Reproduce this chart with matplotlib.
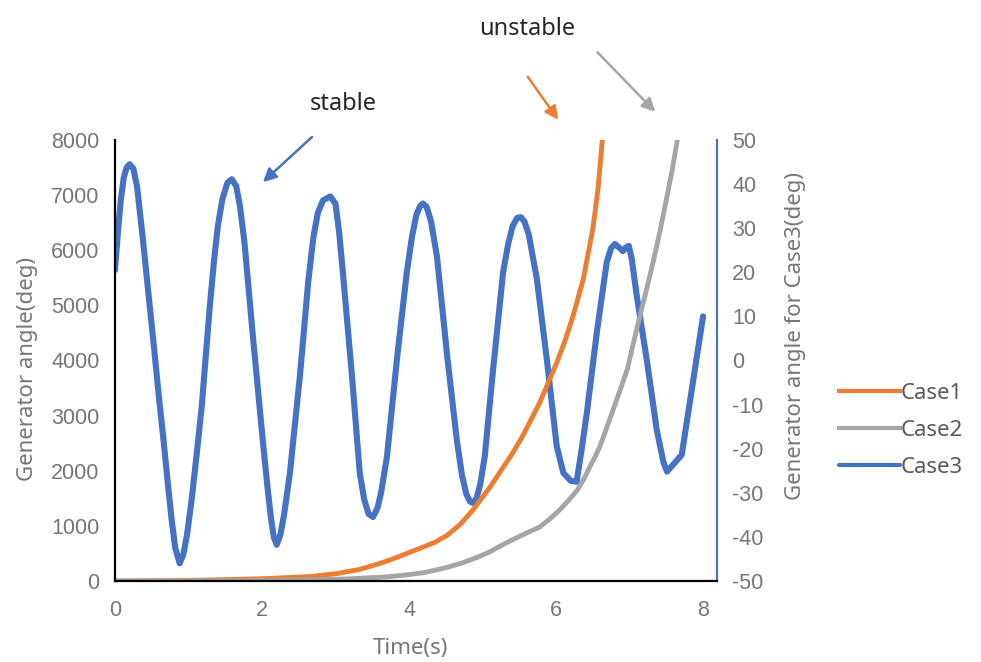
import numpy as np
import matplotlib
matplotlib.use("Agg")
import matplotlib.pyplot as plt

plt.rcParams['axes.unicode_minus'] = False

# Case1 / Case2: generator angle (deg), left axis
t_case1 = [0, 1.0, 2.0, 2.65, 3.0, 3.33, 3.61, 3.8, 4.01, 4.2, 4.35, 4.52, 4.7, 4.87,
           5.1, 5.25, 5.41, 5.55, 5.65, 5.78, 6.01, 6.12, 6.23, 6.37, 6.50, 6.57, 6.63]
case1 = [0, 10, 40, 80, 130, 210, 320, 410, 520, 620, 700, 830, 1030, 1290,
         1700, 2000, 2320, 2640, 2900, 3240, 3960, 4350, 4800, 5470, 6380, 7100, 8000]

t_case2 = [0, 1.0, 2.0, 2.65, 3.2, 3.7, 4.0, 4.2, 4.5, 4.73, 4.95, 5.1, 5.25, 5.41,
           5.6, 5.78, 5.92, 6.05, 6.17, 6.29, 6.38, 6.46, 6.53, 6.6, 6.73, 6.85,
           6.97, 7.05, 7.14, 7.23, 7.32, 7.42, 7.51, 7.58, 7.65]
case2 = [0, 2, 8, 20, 40, 75, 115, 150, 240, 330, 440, 530, 640, 750,
         870, 980, 1130, 1290, 1460, 1650, 1850, 2070, 2250, 2450, 2930, 3380,
         3840, 4300, 4800, 5280, 5780, 6380, 6980, 7450, 8000]

# Case3: generator angle (deg), right axis
t_case3 = [0.00, 0.04, 0.08, 0.12, 0.16, 0.20, 0.25, 0.30, 0.38, 0.45, 0.52, 0.59,
           0.66, 0.72, 0.77, 0.82, 0.88, 0.93, 0.98, 1.04, 1.11, 1.18, 1.29, 1.35,
           1.40, 1.46, 1.53, 1.59, 1.65, 1.70, 1.76, 1.88, 2.01, 2.07, 2.12, 2.16,
           2.20, 2.25, 2.30, 2.38, 2.52, 2.63, 2.70, 2.76, 2.83, 2.93, 3.00, 3.05,
           3.10, 3.22, 3.33, 3.39, 3.45, 3.51, 3.57, 3.62, 3.70, 3.84, 3.97, 4.04,
           4.10, 4.15, 4.19, 4.24, 4.30, 4.38, 4.52, 4.65, 4.72, 4.78, 4.83, 4.87,
           4.92, 4.97, 5.03, 5.14, 5.28, 5.35, 5.41, 5.47, 5.52, 5.57, 5.63, 5.74,
           5.88, 6.01, 6.10, 6.20, 6.28, 6.35, 6.42, 6.56, 6.69, 6.75, 6.80, 6.86,
           6.91, 6.95, 6.99, 7.03, 7.10, 7.24, 7.37, 7.46, 7.51, 7.71, 8.00]
case3 = [20.5, 29, 36.5, 41.5, 43.8, 44.5, 43.5, 39.5, 27.5, 16, 4.8, -7,
         -18, -28, -36, -42.5, -46, -44, -39.5, -32, -21.5, -10.5, 12.3, 23,
         30.5, 36.5, 40.3, 41.1, 39.5, 35, 27, 4.8, -18, -28, -35.5, -40,
         -41.8, -39.5, -35, -25.5, -2.8, 18, 28, 33.5, 36.3, 37.2, 35.5, 29,
         20, -2.7, -25.5, -31.5, -34.8, -35.5, -33.5, -30, -21.8, 0.9, 20, 28,
         33, 35, 35.6, 34.8, 31.5, 23.6, 0.9, -18, -26, -30.3, -32, -32.3,
         -31.2, -28, -21.8, -2.7, 20, 26.5, 30.5, 32.3, 32.5, 31.5, 28.5, 18.4,
         -0.5, -19.5, -25.5, -27.3, -27.5, -20, -11.8, 7, 22.3, 25.5, 26.4, 25.6,
         24.8, 25.6, 26, 23, 14.5, -0.5, -15.7, -23, -25.2, -21.4, 10]

c_orange = '#ED7D31'
c_gray = '#A5A5A5'
c_blue = '#4472C4'
txt_gray = '#767676'

tick_font = 'Liberation Sans'
text_font = 'Noto Sans'

fig = plt.figure(figsize=(9.81, 6.62), dpi=100)
ax = fig.add_axes([0.1172, 0.1224, 0.6137, 0.6662])
ax2 = ax.twinx()

l3, = ax2.plot(t_case3, case3, color=c_blue, lw=4.4, solid_joinstyle='round',
               solid_capstyle='round', label='Case3')
l1, = ax.plot(t_case1, case1, color=c_orange, lw=3.5, solid_joinstyle='round', label='Case1')
l2, = ax.plot(t_case2, case2, color=c_gray, lw=3.5, solid_joinstyle='round', label='Case2')

# keep the primary lines above the twin axis
ax.set_zorder(ax2.get_zorder() + 1)
ax.patch.set_visible(False)

ax.set_xlim(0, 8.19)
ax.set_ylim(0, 8000)
ax2.set_ylim(-50, 50)
ax.set_xticks([0, 2, 4, 6, 8])
ax.set_yticks(np.arange(0, 8001, 1000))
ax2.set_yticks(np.arange(-50, 51, 10))

for a in (ax, ax2):
    a.tick_params(length=0, labelsize=15.5, labelcolor=txt_gray)
    for lab in a.get_xticklabels() + a.get_yticklabels():
        lab.set_fontfamily(tick_font)
ax.tick_params(axis='y', pad=11)
ax.tick_params(axis='x', pad=14)
ax2.tick_params(axis='y', pad=11)

for s in ('top', 'right'):
    ax.spines[s].set_visible(False)
for s in ('top', 'left', 'bottom'):
    ax2.spines[s].set_visible(False)
ax.spines['left'].set_color('black')
ax.spines['left'].set_linewidth(1.6)
ax.spines['bottom'].set_color('black')
ax.spines['bottom'].set_linewidth(1.6)
ax2.spines['right'].set_color(c_blue)
ax2.spines['right'].set_linewidth(1.5)

ax.set_ylabel('Generator angle(deg)', fontsize=16, color=txt_gray, family=text_font,
              ha='center', va='center')
ax.yaxis.set_label_coords(-0.145, 0.48)
ax2.set_ylabel('Generator angle for Case3(deg)', fontsize=16, color=txt_gray,
               family=text_font, rotation=90, ha='center', va='center')
ax2.yaxis.set_label_coords(1.13, 0.555)
ax.set_xlabel('Time(s)', fontsize=16, color=txt_gray, family=text_font,
              ha='center', va='center')
ax.xaxis.set_label_coords(0.49, -0.152)

leg = fig.legend(handles=[l1, l2, l3], loc='center left', bbox_to_anchor=(0.855, 0.350),
                 frameon=False, borderpad=0, borderaxespad=0, handlelength=2.75,
                 handletextpad=0.05, labelspacing=0.72,
                 prop={'family': text_font, 'size': 16})
for txt in leg.get_texts():
    txt.set_color('#595959')
for h in leg.get_lines():
    h.set_linewidth(3.0)

# stable / unstable notes
fig.text(0.350, 0.843, 'stable', fontsize=17, color='#262626', family=text_font,
         ha='center', va='center')
fig.text(0.537, 0.956, 'unstable', fontsize=17, color='#262626', family=text_font,
         ha='center', va='center')

arrows = [((0.318, 0.793), (0.268, 0.725), c_blue),
          ((0.538, 0.884), (0.569, 0.819), c_orange),
          ((0.609, 0.921), (0.668, 0.831), c_gray)]
for tail, head, col in arrows:
    fig.add_artist(matplotlib.patches.FancyArrowPatch(
        tail, head, transform=fig.transFigure, arrowstyle='-|>',
        mutation_scale=20, color=col, lw=1.8, shrinkA=0, shrinkB=0))

fig.savefig('out.png', dpi=100)
